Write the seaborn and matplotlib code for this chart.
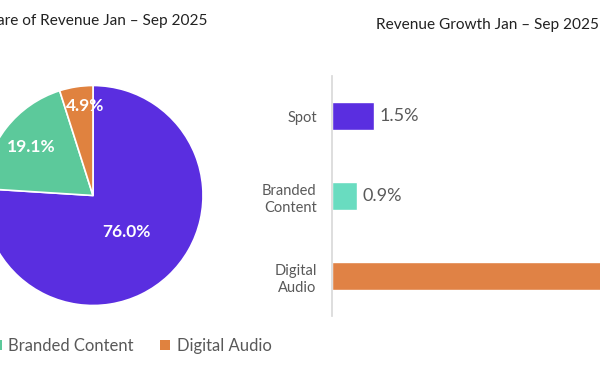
import numpy as np
import matplotlib
matplotlib.use("Agg")
import matplotlib.pyplot as plt
from matplotlib.patches import Patch
import seaborn as sns

# data
share_labels = ["Spot", "Branded Content", "Digital Audio"]
share_values = [76.0, 19.1, 4.9]
share_colors = ["#5A2EE0", "#5CC99B", "#E0823F"]

growth_labels = ["Spot", "Branded\nContent", "Digital\nAudio"]
growth_values = [1.5, 0.9, 12.0]
growth_colors = ["#5A2EE0", "#69DCC0", "#E08245"]

sns.set_theme(style="white")
plt.rcParams["font.family"] = ["Lato", "DejaVu Sans"]

W, H = 600, 372
fig = plt.figure(figsize=(6, 3.72), dpi=100)


def px_axes(left, top, width, height):
    # axes placed in pixel units measured from the top-left corner
    return fig.add_axes([left / W, (H - top - height) / H, width / W, height / H])


# pie: share of revenue
ax1 = px_axes(93 - 110, 195.5 - 110, 220, 220)
wedges, _ = ax1.pie(share_values, colors=share_colors, startangle=90,
                    counterclock=False, radius=1,
                    wedgeprops=dict(edgecolor="white", linewidth=1.2))
ax1.set_xlim(-1, 1)
ax1.set_ylim(-1, 1)
label_dist = [0.45, 0.71, 0.82]
label_shift = [0, 0, -4]
for w, v, d, s in zip(wedges, share_values, label_dist, label_shift):
    ang = np.deg2rad((w.theta1 + w.theta2) / 2 + s)
    ax1.text(d * np.cos(ang), d * np.sin(ang), f"{v:.1f}%", color="white",
             fontsize=12.5, fontweight="bold", ha="center", va="center")

fig.text(208 / W, 1 - 21 / H, "Share of Revenue Jan \u2013 Sep 2025",
         ha="right", va="center", fontsize=11.1, color="#222222")

handles = [Patch(facecolor=c, edgecolor="none") for c in share_colors]
fig.legend(handles, share_labels, loc="center right",
           bbox_to_anchor=(287 / W, 1 - 346 / H), ncol=3, frameon=False,
           fontsize=12, labelcolor="#595959", handlelength=0.6,
           handleheight=0.6, handletextpad=0.4, columnspacing=1.6)

# bars: revenue growth
xmax = 14.0
ax2 = px_axes(332, 76, 28 * xmax, 240)
sns.barplot(x=growth_values, y=growth_labels, hue=growth_labels,
            palette=growth_colors, orient="h", width=0.35, legend=False,
            saturation=1, ax=ax2)
ax2.set_xlim(0, xmax)
ax2.set_ylim(2.5, -0.5)
for cont in ax2.containers:
    ax2.bar_label(cont, labels=[f"{b.get_width():.1f}%" for b in cont],
                  padding=4, fontsize=13, color="#595959")
for s in ["top", "right", "bottom"]:
    ax2.spines[s].set_visible(False)
ax2.spines["left"].set_color("#D9D9D9")
ax2.set_xticks([])
ax2.set_xlabel("")
ax2.set_ylabel("")
ax2.tick_params(axis="y", length=0, pad=11, labelsize=10.5, labelcolor="#595959")
for t in ax2.get_yticklabels():
    t.set_multialignment("right")
    t.set_linespacing(1.35)

fig.text(488 / W, 1 - 25 / H, "Revenue Growth Jan \u2013 Sep 2025",
         ha="center", va="center", fontsize=11.1, color="#222222")

fig.savefig("out.png", dpi=100)
